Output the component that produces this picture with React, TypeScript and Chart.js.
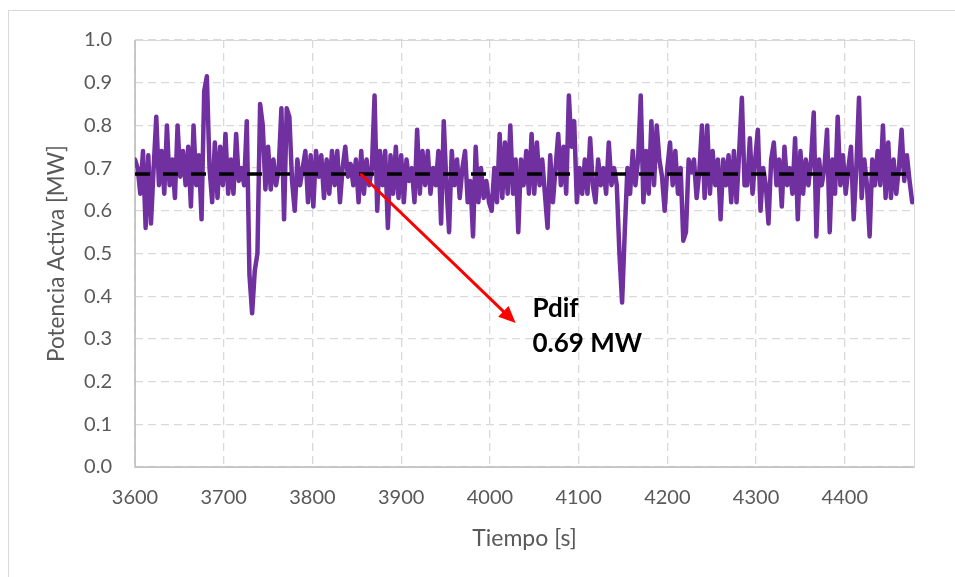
import React, { useEffect, useRef } from "react";
import { Chart, registerables } from "chart.js";

Chart.register(...registerables);

// ---- Data ----
const tiempoInicio = 3600; // s
const pasoTiempo = 3; // s
const potenciaActiva = [
  0.72, 0.70, 0.64, 0.74, 0.56, 0.73, 0.57, 0.70, 0.82, 0.66,
  0.74, 0.64, 0.80, 0.66, 0.72, 0.63, 0.80, 0.68, 0.74, 0.66,
  0.75, 0.61, 0.80, 0.66, 0.73, 0.58, 0.88, 0.915, 0.70, 0.62,
  0.76, 0.63, 0.75, 0.66, 0.78, 0.64, 0.72, 0.64, 0.78, 0.67,
  0.70, 0.66, 0.81, 0.45, 0.36, 0.46, 0.50, 0.85, 0.80, 0.65,
  0.75, 0.65, 0.72, 0.66, 0.70, 0.84, 0.58, 0.84, 0.82, 0.67,
  0.60, 0.72, 0.66, 0.70, 0.74, 0.62, 0.73, 0.61, 0.74, 0.68,
  0.73, 0.63, 0.72, 0.64, 0.74, 0.66, 0.74, 0.62, 0.70, 0.75,
  0.68, 0.71, 0.66, 0.72, 0.62, 0.74, 0.64, 0.72, 0.66, 0.70,
  0.87, 0.60, 0.74, 0.66, 0.74, 0.56, 0.73, 0.64, 0.75, 0.63,
  0.73, 0.62, 0.72, 0.67, 0.70, 0.62, 0.79, 0.64, 0.74, 0.66,
  0.74, 0.64, 0.70, 0.66, 0.74, 0.57, 0.81, 0.66, 0.55, 0.74,
  0.66, 0.72, 0.63, 0.70, 0.74, 0.62, 0.67, 0.54, 0.75, 0.62,
  0.70, 0.63, 0.67, 0.62, 0.60, 0.70, 0.62, 0.78, 0.63, 0.76,
  0.64, 0.80, 0.64, 0.72, 0.55, 0.72, 0.66, 0.74, 0.64, 0.78,
  0.64, 0.76, 0.66, 0.72, 0.64, 0.56, 0.73, 0.62, 0.70, 0.78,
  0.66, 0.75, 0.64, 0.87, 0.75, 0.81, 0.62, 0.70, 0.64, 0.72,
  0.64, 0.77, 0.66, 0.62, 0.72, 0.66, 0.70, 0.64, 0.76, 0.66,
  0.70, 0.66, 0.50, 0.385, 0.55, 0.70, 0.64, 0.74, 0.66, 0.72,
  0.87, 0.62, 0.74, 0.64, 0.81, 0.66, 0.80, 0.72, 0.68, 0.60,
  0.70, 0.76, 0.66, 0.74, 0.64, 0.70, 0.53, 0.55, 0.72, 0.69,
  0.72, 0.63, 0.69, 0.80, 0.63, 0.80, 0.64, 0.74, 0.66, 0.72,
  0.58, 0.72, 0.66, 0.73, 0.62, 0.74, 0.62, 0.74, 0.865, 0.66,
  0.66, 0.77, 0.64, 0.72, 0.79, 0.60, 0.70, 0.66, 0.57, 0.72,
  0.76, 0.66, 0.72, 0.61, 0.75, 0.66, 0.70, 0.64, 0.77, 0.58,
  0.74, 0.64, 0.72, 0.66, 0.72, 0.83, 0.54, 0.72, 0.66, 0.70,
  0.79, 0.55, 0.72, 0.64, 0.82, 0.66, 0.73, 0.64, 0.70, 0.75,
  0.58, 0.70, 0.865, 0.63, 0.72, 0.66, 0.54, 0.72, 0.66, 0.74,
  0.66, 0.80, 0.63, 0.76, 0.63, 0.72, 0.64, 0.70, 0.79, 0.67,
  0.73, 0.67, 0.62,
];
const potenciaPromedio = 0.686; // MW (dashed line)
const ejeXMin = 3600;
const ejeXMax = 4478;
const ejeXPaso = 100;
const ejeYMin = 0;
const ejeYMax = 1.0;
const ejeYPaso = 0.1;
const flechaInicio = { x: 3855, y: 0.685 };
const flechaFin = { x: 4029, y: 0.337 };
const etiquetaTextos = ["Pdif", "0.69 MW"];
const etiquetaPos = { x: 4048, y1: 0.352, y2: 0.27 };
const tituloX = "Tiempo [s]";
const tituloY = "Potencia Activa [MW]";

const FONT = "Lato";

const annotationPlugin = {
  id: "annotations",
  beforeDatasetsDraw(chart: any) {
    const { ctx, chartArea: a } = chart;
    ctx.save();
    ctx.strokeStyle = "#d9d9d9";
    ctx.lineWidth = 1;
    ctx.setLineDash([]);
    ctx.strokeRect(Math.round(a.left) + 0.5, Math.round(a.top) + 0.5, Math.round(a.right - a.left), Math.round(a.bottom - a.top));
    ctx.strokeStyle = "#bfbfbf";
    ctx.lineWidth = 1.5;
    ctx.beginPath();
    ctx.moveTo(a.left, a.top);
    ctx.lineTo(a.left, a.bottom);
    ctx.lineTo(a.right, a.bottom);
    ctx.stroke();
    ctx.restore();
  },
  afterDatasetsDraw(chart: any) {
    const { ctx } = chart;
    const xs = chart.scales.x;
    const ys = chart.scales.y;
    const x1 = xs.getPixelForValue(flechaInicio.x);
    const y1 = ys.getPixelForValue(flechaInicio.y);
    const x2 = xs.getPixelForValue(flechaFin.x);
    const y2 = ys.getPixelForValue(flechaFin.y);
    const ang = Math.atan2(y2 - y1, x2 - x1);
    const headLen = 17;
    const headW = 7.5;
    const bx = x2 - headLen * Math.cos(ang);
    const by = y2 - headLen * Math.sin(ang);
    ctx.save();
    ctx.strokeStyle = "#ff0000";
    ctx.fillStyle = "#ff0000";
    ctx.lineWidth = 3;
    ctx.lineCap = "round";
    ctx.beginPath();
    ctx.moveTo(x1, y1);
    ctx.lineTo(bx, by);
    ctx.stroke();
    ctx.beginPath();
    ctx.moveTo(x2, y2);
    ctx.lineTo(bx - headW * Math.sin(ang), by + headW * Math.cos(ang));
    ctx.lineTo(bx + headW * Math.sin(ang), by - headW * Math.cos(ang));
    ctx.closePath();
    ctx.fill();

    ctx.fillStyle = "#000000";
    ctx.font = `bold 26px ${FONT}`;
    ctx.textAlign = "left";
    ctx.textBaseline = "alphabetic";
    const tx = xs.getPixelForValue(etiquetaPos.x);
    ctx.fillText(etiquetaTextos[0], tx, ys.getPixelForValue(etiquetaPos.y1));
    ctx.fillText(etiquetaTextos[1], tx, ys.getPixelForValue(etiquetaPos.y2));
    ctx.restore();
  },
};

export default function App() {
  const canvasRef = useRef<HTMLCanvasElement | null>(null);

  useEffect(() => {
    const canvas = canvasRef.current;
    if (!canvas) return;
    const serie = potenciaActiva.map((v, i) => ({ x: tiempoInicio + i * pasoTiempo, y: v }));
    const promedio = [
      { x: ejeXMin, y: potenciaPromedio },
      { x: ejeXMax, y: potenciaPromedio },
    ];
    const chart = new Chart(canvas, {
      type: "line",
      data: {
        datasets: [
          {
            label: "Pdif",
            data: promedio,
            borderColor: "#000000",
            borderWidth: 3.5,
            borderDash: [15, 13],
            pointRadius: 0,
            order: 0,
          },
          {
            label: "Potencia Activa",
            data: serie,
            borderColor: "#7030a0",
            borderWidth: 4.5,
            borderJoinStyle: "round",
            borderCapStyle: "round",
            pointRadius: 0,
            tension: 0,
            order: 1,
          },
        ],
      },
      options: {
        responsive: false,
        animation: false,
        layout: { padding: { left: 0, top: 40, right: 41, bottom: 0 } },
        plugins: { legend: { display: false }, tooltip: { enabled: false } },
        scales: {
          x: {
            type: "linear",
            min: ejeXMin,
            max: ejeXMax,
            afterFit: (s: any) => {
              s.height = 110;
            },
            ticks: {
              stepSize: ejeXPaso,
              includeBounds: false,
              autoSkip: false,
              maxRotation: 0,
              padding: 19,
              color: "#595959",
              font: { family: FONT, size: 20 },
              callback: (v: any) => String(v),
            },
            grid: { color: "#d9d9d9", lineWidth: 1.3, drawTicks: false },
            border: { display: false, dash: [8, 5] },
            title: {
              display: true,
              text: tituloX,
              color: "#595959",
              font: { family: FONT, size: 23 },
              padding: { top: 0, bottom: 25 },
            },
          },
          y: {
            type: "linear",
            min: ejeYMin,
            max: ejeYMax,
            afterFit: (s: any) => {
              s.width = 135;
            },
            ticks: {
              stepSize: ejeYPaso,
              padding: 23,
              color: "#595959",
              font: { family: FONT, size: 20 },
              callback: (v: any) => Number(v).toFixed(1),
            },
            grid: { color: "#d9d9d9", lineWidth: 1.3, drawTicks: false },
            border: { display: false, dash: [8, 5] },
            title: {
              display: true,
              text: tituloY,
              color: "#595959",
              font: { family: FONT, size: 22.5 },
              padding: { top: 43, bottom: 0 },
            },
          },
        },
      },
      plugins: [annotationPlugin],
    });
    return () => chart.destroy();
  }, []);

  return (
    <div style={{ position: "fixed", left: 0, top: 0, width: 955, height: 577, overflow: "hidden", background: "#ffffff" }}>
      <div
        style={{
          position: "absolute",
          left: 8,
          top: 10,
          width: 1000,
          height: 700,
          border: "1px solid #d9d9d9",
        }}
      />
      <canvas ref={canvasRef} width={955} height={577} style={{ position: "absolute", left: 0, top: 0 }} />
    </div>
  );
}
